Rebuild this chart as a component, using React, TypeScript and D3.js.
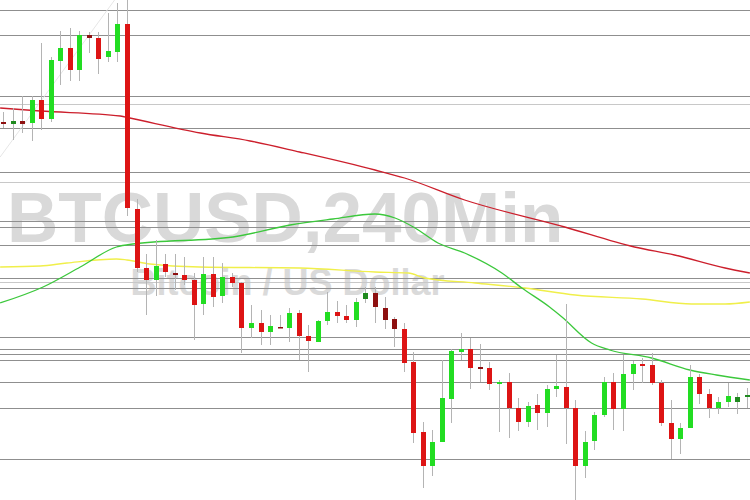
import React from "react";
import * as d3 from "d3";

// Candle prices (BTCUSD, 240 min)
const opens = [6578,6576,6579,6577,6600,6581,6639,6652,6630,6665,6662,6643,6648,6676,6491,6432,6420,6436,6427,6425,6420,6396,6426,6404,6423,6417,6372,6377,6368,6373,6372,6387,6364,6358,6379,6388,6384,6380,6401,6407,6392,6381,6371,6338,6268,6234,6258,6301,6348,6351,6333,6332,6316,6318,6292,6278,6295,6287,6311,6313,6292,6234,6259,6285,6318,6291,6326,6336,6335,6317,6277,6261,6272,6323,6306,6292,6298,6298,6303];
const highs = [6588,6592,6604,6604,6657,6643,6669,6672,6669,6668,6668,6687,6697,6702,6501,6446,6460,6446,6446,6443,6427,6443,6443,6437,6427,6418,6395,6390,6385,6385,6392,6390,6375,6380,6408,6399,6395,6402,6413,6413,6403,6383,6377,6348,6278,6270,6340,6351,6367,6362,6356,6338,6320,6327,6302,6298,6306,6315,6345,6396,6300,6269,6288,6323,6327,6345,6339,6342,6347,6320,6300,6277,6335,6326,6311,6303,6317,6307,6312];
const lows = [6572,6560,6567,6559,6570,6578,6615,6619,6619,6647,6626,6638,6638,6484,6428,6385,6404,6423,6410,6415,6360,6385,6393,6397,6413,6347,6362,6355,6355,6372,6358,6340,6328,6358,6375,6377,6377,6373,6397,6377,6371,6353,6328,6257,6212,6224,6258,6277,6340,6311,6318,6310,6268,6262,6269,6273,6270,6273,6303,6256,6195,6222,6250,6283,6270,6269,6310,6317,6315,6274,6241,6246,6272,6296,6282,6286,6293,6286,6292];
const closes = [6576,6579,6576,6600,6581,6640,6652,6630,6665,6662,6641,6649,6676,6492,6432,6420,6434,6428,6425,6420,6395,6426,6403,6423,6417,6372,6377,6368,6374,6372,6387,6364,6359,6379,6388,6384,6380,6398,6407,6393,6380,6371,6337,6267,6234,6258,6302,6349,6351,6332,6331,6316,6318,6292,6278,6294,6287,6311,6314,6292,6234,6258,6285,6318,6291,6326,6336,6334,6317,6277,6261,6272,6323,6306,6292,6298,6304,6303,6305];
const darkCandles = [0,1,2,9,18,29,38,39,40,41,50,77,78];

// Horizontal levels
const levels = [6690,6665,6604,6572,6528,6479,6473,6455,6422,6412,6363,6351,6346,6340,6318,6292,6241];
const faintLevels = [6596,6518,6418];

// Moving averages: [candle index, price]
const maSlow: [number, number][] = [[-0.3,6592],[3.9,6589],[12.3,6584],[13.3,6582],[20.7,6567],[25.9,6559],[31.1,6548],[39,6530],[42.1,6522],[48.4,6500],[58.9,6473],[66.2,6453],[70.4,6445],[75.7,6432],[78.3,6427]];
const maMid: [number, number][] = [[-0.3,6433],[3.9,6434],[6.7,6437],[11.9,6441],[13,6440],[15.4,6436],[20.6,6433],[31.1,6432],[39,6428],[42.5,6427],[44.2,6422],[49.5,6417],[54.7,6412],[60,6405],[67,6401],[72.2,6396],[75.7,6396],[78.3,6398]];
const maFast: [number, number][] = [[-0.3,6397],[4.2,6413],[8.1,6433],[11.9,6453],[13.6,6456],[24.1,6463],[30.1,6475],[34.6,6481],[39,6486],[41.1,6482],[43.2,6472],[45.6,6457],[48.4,6447],[52.3,6427],[54.4,6412],[57.3,6393],[58.6,6383],[61.7,6357],[63.6,6350],[68,6342],[72,6330],[74.8,6325],[78.3,6320]];
const trendLine: [number, number][] = [[-0.3,6543],[11.7,6700]];

const title = "BTCUSD,240Min";
const subtitle = "Bitcoin / US Dollar";

export default function App() {
  const W = 750, H = 500;
  const x = d3.scaleLinear().domain([0, 78]).range([3, 747]);
  const y = d3.scaleLinear().domain([6200, 6700]).range([500, 0]);
  const line = d3.line<[number, number]>().x(d => x(d[0])).y(d => y(d[1])).curve(d3.curveMonotoneX);
  const bw = 5;
  const darkSet = new Set(darkCandles);

  return (
    <svg width={W} height={H} style={{ position: "absolute", left: 0, top: 0, background: "#fff" }}>
      <rect x={0} y={0} width={W} height={H} fill="#fff" />
      <text x={7} y={242} fontFamily="Liberation Sans, Arial, sans-serif" fontWeight="bold" fontSize={71} fill="#d9d9d9">{title}</text>
      <text x={130.5} y={295} fontFamily="Liberation Sans, Arial, sans-serif" fontWeight="bold" fontSize={36} fill="#dadada">{subtitle}</text>
      {faintLevels.map((p, i) => (
        <line key={"f" + i} x1={0} x2={W} y1={Math.round(y(p)) + 0.5} y2={Math.round(y(p)) + 0.5} stroke="#c8c8c8" strokeWidth={1} />
      ))}
      {levels.map((p, i) => (
        <line key={"l" + i} x1={0} x2={W} y1={Math.round(y(p)) + 0.5} y2={Math.round(y(p)) + 0.5} stroke="#8f8f8f" strokeWidth={1} />
      ))}
      <path d={d3.line<[number, number]>().x(d => x(d[0])).y(d => y(d[1]))(trendLine) || ""} stroke="#e6e6e6" strokeWidth={1} fill="none" />
      <path d={line(maSlow) || ""} stroke="#cc1f2c" strokeWidth={1.3} fill="none" />
      <path d={line(maMid) || ""} stroke="#f0ef4a" strokeWidth={1.3} fill="none" />
      <path d={line(maFast) || ""} stroke="#3cc83c" strokeWidth={1.3} fill="none" />
      {opens.map((o, i) => {
        const c = closes[i];
        const up = c >= o;
        const dark = darkSet.has(i);
        const fill = up ? (dark ? "#1f8a1f" : "#22dd22") : (dark ? "#8e1010" : "#dd1414");
        const cx = Math.round(x(i)) + 0.5;
        const top = y(Math.max(o, c));
        const bot = y(Math.min(o, c));
        return (
          <g key={i}>
            <line x1={cx} x2={cx} y1={y(highs[i])} y2={y(lows[i])} stroke="#b4b4b4" strokeWidth={1} />
            <rect x={cx - bw / 2} y={top} width={bw} height={Math.max(bot - top, 1.5)} fill={fill} />
          </g>
        );
      })}
    </svg>
  );
}
